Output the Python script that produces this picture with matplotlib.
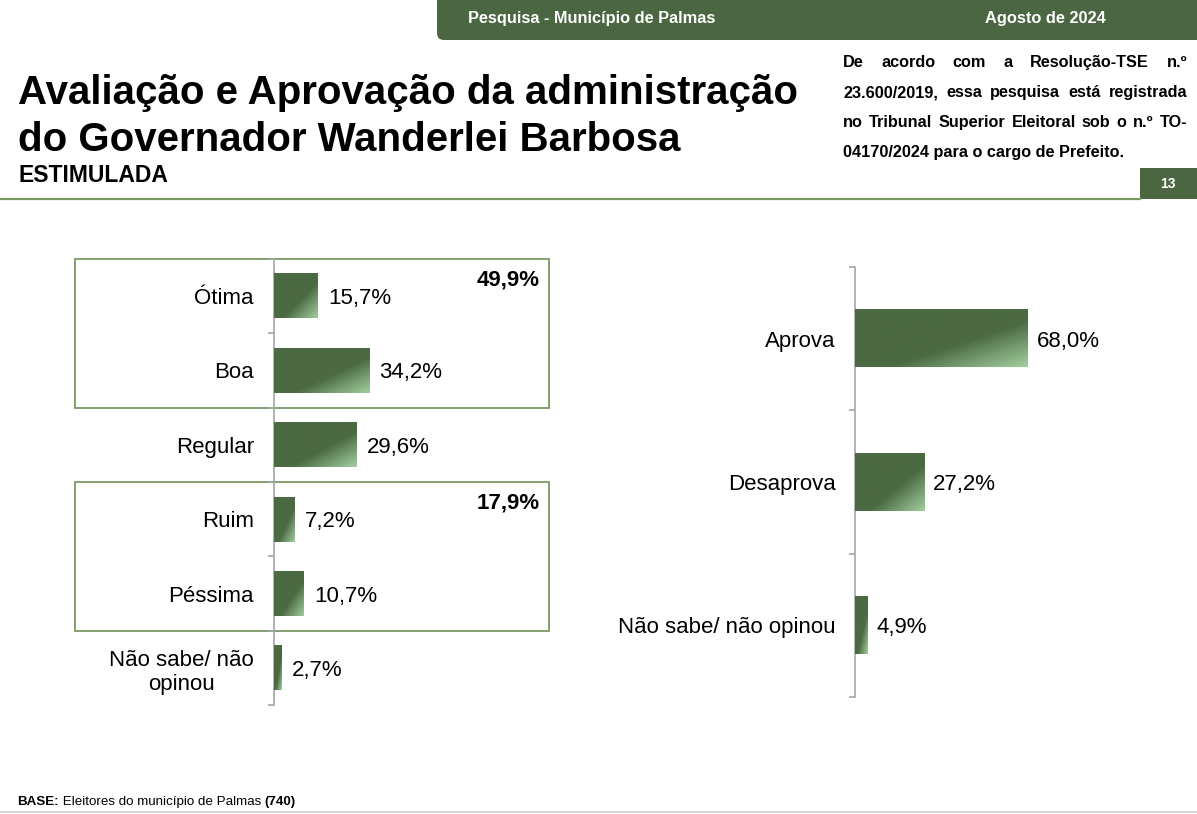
import numpy as np
import matplotlib.pyplot as plt
import matplotlib.transforms as mtransforms
from matplotlib.patches import Rectangle, FancyBboxPatch
from matplotlib.colors import LinearSegmentedColormap

plt.rcParams['font.family'] = ['Liberation Sans', 'DejaVu Sans']

# dados
aval_labels = ['Ótima', 'Boa', 'Regular', 'Ruim', 'Péssima', 'Não sabe/ não\nopinou']
aval_values = [15.7, 34.2, 29.6, 7.2, 10.7, 2.7]
grupo_labels = ['49,9%', '17,9%']
grupo_rows = [(0, 1), (3, 4)]

aprov_labels = ['Aprova', 'Desaprova', 'Não sabe/ não opinou']
aprov_values = [68.0, 27.2, 4.9]

nota_linhas = ['De acordo com a Resolução-TSE n.º',
               '23.600/2019, essa pesquisa está registrada',
               'no Tribunal Superior Eleitoral sob o n.º TO-',
               '04170/2024 para o cargo de Prefeito.']

VERDE = '#4b6a42'
CLARO = '#a2cf9f'
BORDA = '#7b9863'
EIXO = '#a6a6a6'

W, H = 1197, 814
fig = plt.figure(figsize=(W / 100, H / 100), dpi=100)

# camada de fundo em pixels
bg = fig.add_axes([0, 0, 1, 1], zorder=0)
bg.set_xlim(0, W)
bg.set_ylim(H, 0)
bg.axis('off')

bg.add_patch(FancyBboxPatch((437, -20), 820, 60, boxstyle='round,pad=0,rounding_size=7',
                            fc='#4a6741', ec='none'))
bg.text(468, 19, 'Pesquisa - Município de Palmas', color='white', fontsize=11.8,
        fontweight='bold', va='center')
bg.text(985, 19, 'Agosto de 2024', color='white', fontsize=11.8, fontweight='bold', va='center')

bg.text(18, 104, 'Avaliação e Aprovação da administração', fontsize=29, fontweight='bold',
        va='baseline')
bg.text(18, 151, 'do Governador Wanderlei Barbosa', fontsize=29, fontweight='bold',
        va='baseline')
bg.text(18, 182, 'ESTIMULADA', fontsize=16.5, fontweight='bold', va='baseline')

bg.plot([0, 1140], [199, 199], color=BORDA, lw=1.6)
bg.add_patch(Rectangle((1140, 168), 60, 31, fc='#4a6741', ec='none'))
bg.text(1168, 184, '13', color='white', fontsize=10, fontweight='bold', ha='center', va='center')
bg.plot([0, W], [812, 812], color='#d9d9d9', lw=1.5)

renderer = fig.canvas.get_renderer()

# texto justificado da nota
x_ini, x_fim = 843, 1187
for k, linha in enumerate(nota_linhas):
    y = 67 + k * 30
    if k == len(nota_linhas) - 1:
        bg.text(x_ini, y, linha, fontsize=11.7, fontweight='bold', va='baseline')
        continue
    palavras = linha.split()
    textos = [bg.text(0, y, p, fontsize=11.7, fontweight='bold', va='baseline') for p in palavras]
    larg = [t.get_window_extent(renderer).width for t in textos]
    gap = (x_fim - x_ini - sum(larg)) / (len(palavras) - 1)
    x = x_ini
    for t, w in zip(textos, larg):
        t.set_x(x)
        x += w + gap

# rodapé com partes em negrito
x = 17
for parte, peso in [('BASE:', 'bold'), (' Eleitores do município de Palmas ', 'normal'), ('(740)', 'bold')]:
    t = bg.text(x, 805, parte, fontsize=9.6, fontweight=peso, va='baseline')
    x += t.get_window_extent(renderer).width

# gradiente das barras
cmap = LinearSegmentedColormap.from_list('verde', [(0, VERDE), (0.6, VERDE), (1, CLARO)])
uu, vv = np.meshgrid(np.linspace(0, 1, 200), np.linspace(0, 1, 80))
grad = (uu + vv) / 2


def pinta_barras(ax, barras):
    for b in barras:
        x0, y0, w, h = b.get_x(), b.get_y(), b.get_width(), b.get_height()
        ax.imshow(grad, cmap=cmap, vmin=0, vmax=1, extent=(x0, x0 + w, y0 + h, y0),
                  aspect='auto', interpolation='bilinear', origin='upper', zorder=3)


def estilo_eixo(ax, n, labels, pad):
    ax.set_ylim(n - 0.5, -0.5)
    for s in ['top', 'right', 'bottom']:
        ax.spines[s].set_visible(False)
    ax.spines['left'].set_color(EIXO)
    ax.spines['left'].set_linewidth(1.2)
    ax.set_xticks([])
    ax.set_yticks(np.arange(n + 1) - 0.5)
    ax.set_yticklabels([])
    ax.set_yticks(np.arange(n), minor=True)
    ax.set_yticklabels(labels, minor=True, fontsize=16, multialignment='center')
    ax.tick_params(axis='y', which='major', length=4, width=1.2, color=EIXO)
    ax.tick_params(axis='y', which='minor', length=0, pad=pad)
    ax.patch.set_visible(False)


# gráfico da avaliação
ax1 = fig.add_axes([274 / W, 1 - 705.2 / H, 280 / W, 446.4 / H], zorder=2)
y1 = np.arange(len(aval_values))
b1 = ax1.barh(y1, aval_values, height=0.6, color=VERDE, zorder=2)
pinta_barras(ax1, b1)
ax1.set_xlim(0, 280 / 2.78)
estilo_eixo(ax1, len(aval_values), aval_labels, 14.5)
for i, v in enumerate(aval_values):
    ax1.annotate(f'{v:.1f}%'.replace('.', ','), xy=(v, i), xytext=(7.5, 0),
                 textcoords='offset points', va='center_baseline', fontsize=16)

mix = mtransforms.blended_transform_factory(fig.transFigure, ax1.transData)
for (r0, r1), lab in zip(grupo_rows, grupo_labels):
    ax1.add_patch(Rectangle((75 / W, r0 - 0.5), (549 - 75) / W, r1 - r0 + 1, transform=mix,
                            fill=False, ec=BORDA, lw=1.3, clip_on=False, zorder=1))
    ax1.annotate(lab, xy=(540 / W, r0 - 0.5), xycoords=mix, xytext=(0, -15),
                 textcoords='offset points', ha='right', va='center', fontsize=16,
                 fontweight='bold')

# gráfico da aprovação
ax2 = fig.add_axes([855 / W, 1 - 697 / H, 300 / W, 430 / H], zorder=2)
y2 = np.arange(len(aprov_values))
b2 = ax2.barh(y2, aprov_values, height=0.4, color=VERDE, zorder=2)
pinta_barras(ax2, b2)
ax2.set_xlim(0, 300 / 2.54)
estilo_eixo(ax2, len(aprov_values), aprov_labels, 14)
for i, v in enumerate(aprov_values):
    ax2.annotate(f'{v:.1f}%'.replace('.', ','), xy=(v, i), xytext=(6.5, 0),
                 textcoords='offset points', va='center_baseline', fontsize=16)

fig.savefig('out.png', dpi=100)
